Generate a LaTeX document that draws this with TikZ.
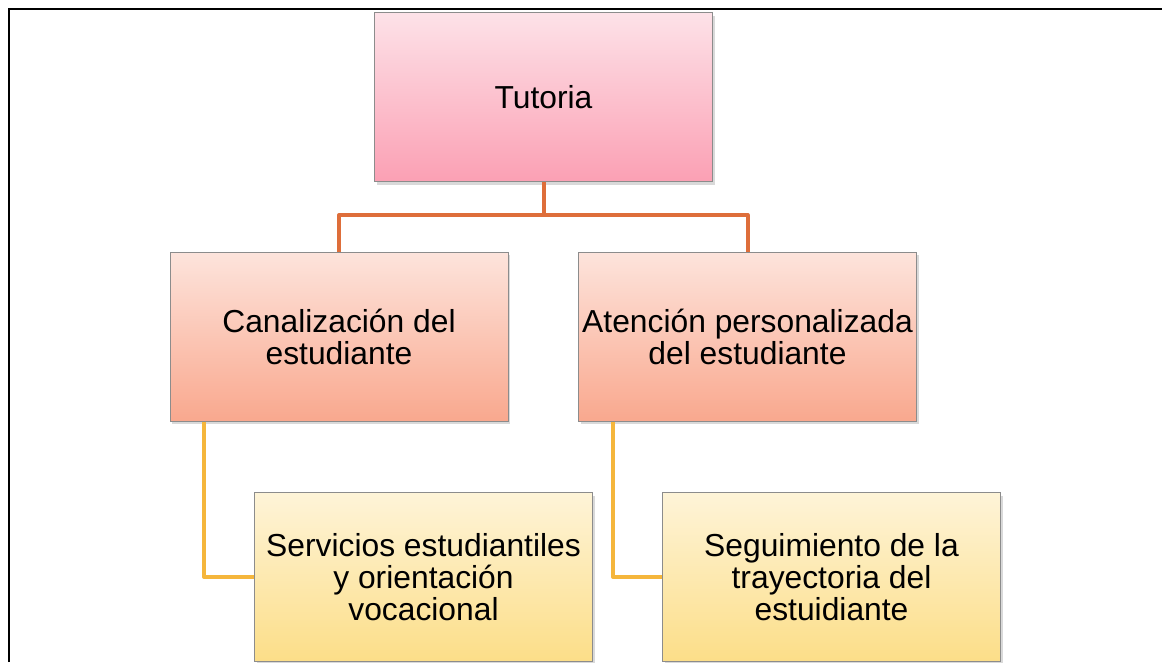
\documentclass[tikz,border=0pt]{standalone}
\usepackage{fontspec}
\setmainfont{Liberation Sans}
\usetikzlibrary{shadows}
\definecolor{frameblack}{RGB}{0,0,0}
\definecolor{boxborder}{RGB}{140,140,140}
\definecolor{pinktop}{RGB}{253,226,232}
\definecolor{pinkbot}{RGB}{251,160,180}
\definecolor{salmontop}{RGB}{253,228,220}
\definecolor{salmonbot}{RGB}{249,168,142}
\definecolor{yellowtop}{RGB}{254,244,216}
\definecolor{yellowbot}{RGB}{252,222,136}
\definecolor{orangeline}{RGB}{222,110,58}
\definecolor{yellowline}{RGB}{245,182,60}
\tikzset{
  basebox/.style={rectangle, draw=boxborder, line width=1pt, minimum width=338pt, minimum height=169pt,
    inner sep=2pt, align=center, font=\fontsize{31.8}{32}\selectfont,
    drop shadow={shadow xshift=2pt, shadow yshift=-3pt, opacity=0.25, fill=black!60}},
  tutbox/.style={basebox, top color=pinktop, bottom color=pinkbot},
  midbox/.style={basebox, top color=salmontop, bottom color=salmonbot},
  lowbox/.style={basebox, top color=yellowtop, bottom color=yellowbot},
  orconn/.style={draw=orangeline, line width=4pt, line join=round},
  yeconn/.style={draw=yellowline, line width=4pt, line join=round},
  framestyle/.style={draw=frameblack, line width=2.5pt}
}
\begin{document}
\begin{tikzpicture}[x=1pt,y=-1pt]
\useasboundingbox (0,0) rectangle (1162,662);
\draw[framestyle] (9,662) -- (9,9) -- (1162,9);

\node[tutbox] (t) at (543.5,97) {Tutoria};
\node[midbox] (c) at (339,336.5) {Canalización del\\estudiante};
\node[midbox] (a) at (747.5,336.5) {Atención personalizada\\del estudiante};
\node[lowbox] (s) at (423.5,577) {Servicios estudiantiles\\y orientación\\vocacional};
\node[lowbox] (g) at (831.5,577) {Seguimiento de la\\trayectoria del\\estuidiante};

\coordinate (tj) at ([yshift=-33pt]t.south);
\draw[orconn] (t.south) -- (tj) -| (c.north);
\draw[orconn] (tj) -| (a.north);
\draw[yeconn] ([xshift=-135pt]c.south) |- (s.west);
\draw[yeconn] ([xshift=-134.5pt]a.south) |- (g.west);
\end{tikzpicture}
\end{document}
